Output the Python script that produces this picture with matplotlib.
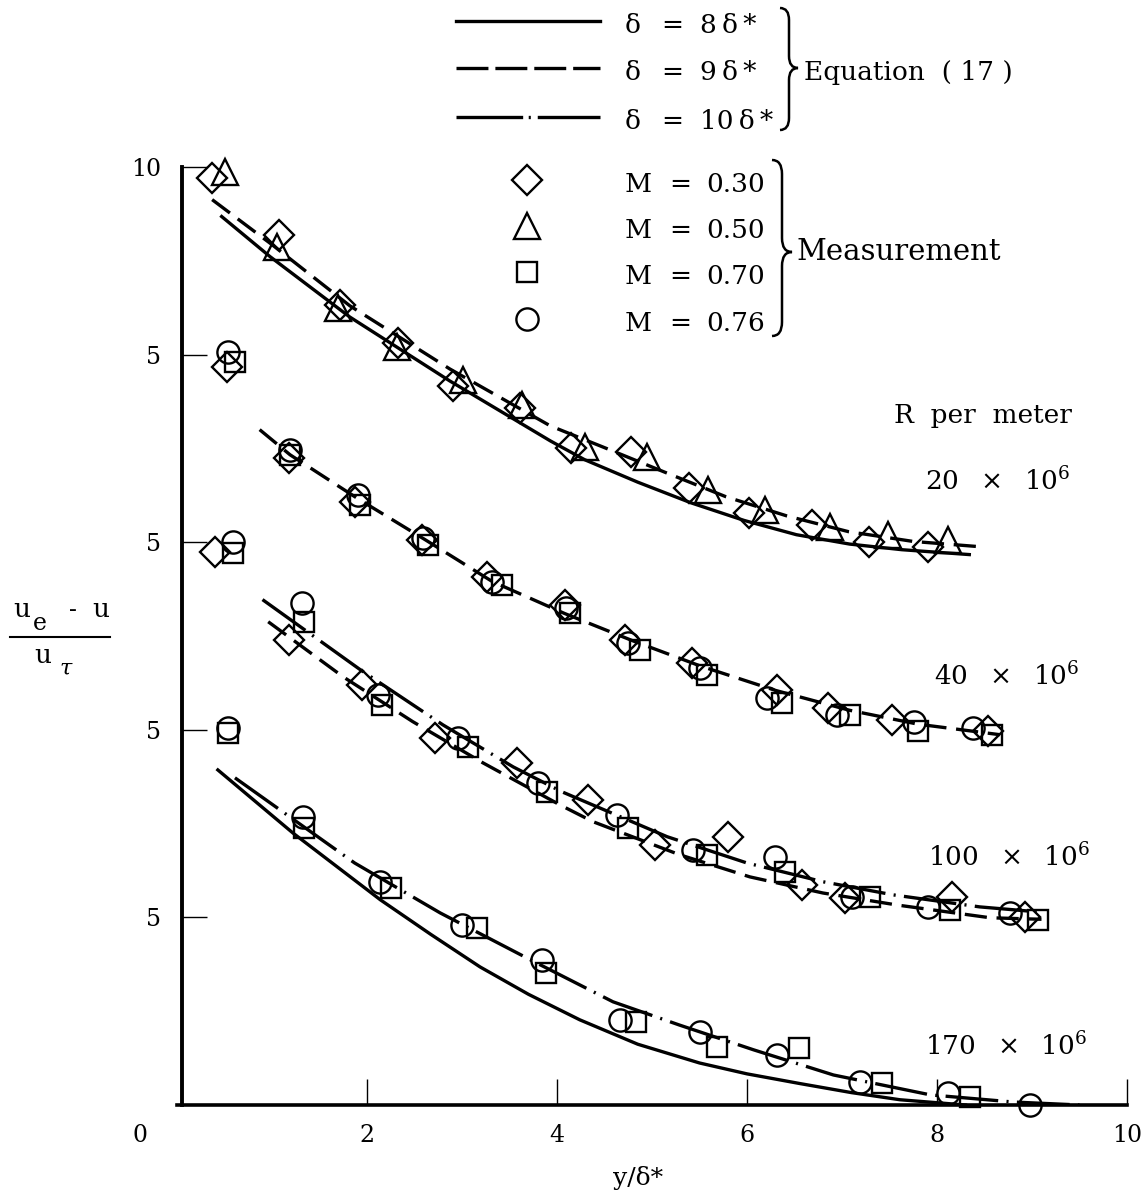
import matplotlib
matplotlib.use("Agg")
import matplotlib.pyplot as plt
from matplotlib.lines import Line2D
from matplotlib.path import Path
from matplotlib.patches import PathPatch

plt.rcParams['font.family'] = ['DejaVu Serif', 'DejaVu Sans']
plt.rcParams['mathtext.fontset'] = 'dejavuserif'
plt.rcParams['lines.scale_dashes'] = False

# ---------------- data (y values include the cascade offset of each group) ----
# Group 20e6 (offset 15): measurements M=0.30 (diamond) and M=0.50 (triangle)
g1_d_x = [0.37, 1.07, 1.72, 2.33, 2.91, 3.61, 4.15, 4.78, 5.39, 6.02, 6.68, 7.28, 7.91]
g1_d_y = [24.72, 23.2, 21.33, 20.32, 19.15, 18.59, 17.52, 17.41, 16.45, 15.79, 15.47, 15.01, 14.88]
g1_t_x = [0.51, 1.05, 1.69, 2.32, 3.01, 3.63, 4.29, 4.95, 5.59, 6.19, 6.87, 7.48, 8.12]
g1_t_y = [24.88, 22.88, 21.25, 20.21, 19.33, 18.67, 17.55, 17.28, 16.4, 15.87, 15.41, 15.2, 15.07]
g1_sol_x = [0.47, 0.98, 1.82, 2.87, 3.93, 4.29, 4.85, 5.41, 5.97, 6.52, 7.08, 7.63, 8.34]
g1_sol_y = [23.68, 22.61, 21.0, 19.3, 17.7, 17.2, 16.6, 16.05, 15.58, 15.2, 14.95, 14.8, 14.67]
g1_dsh_x = [0.37, 1.0, 1.82, 2.87, 3.93, 4.52, 5.15, 5.78, 6.42, 7.07, 7.75, 8.45]
g1_dsh_y = [24.13, 22.93, 21.3, 19.62, 18.1, 17.5, 16.85, 16.21, 15.7, 15.28, 15.02, 14.88]

# Group 40e6 (offset 10): diamond, circle, square
g2_d_x = [0.53, 1.18, 1.87, 2.58, 3.26, 4.08, 4.72, 5.42, 6.32, 6.85, 7.53, 8.54]
g2_d_y = [19.68, 17.25, 16.08, 15.07, 14.08, 13.33, 12.4, 11.79, 11.07, 10.59, 10.27, 9.97]
g2_c_x = [0.54, 1.19, 1.91, 2.59, 3.32, 4.09, 4.75, 5.51, 6.21, 6.95, 7.76, 8.38]
g2_c_y = [20.08, 17.47, 16.27, 15.12, 13.95, 13.25, 12.32, 11.65, 10.85, 10.4, 10.21, 10.05]
g2_s_x = [0.61, 1.19, 1.93, 2.64, 3.42, 4.14, 4.87, 5.58, 6.37, 7.08, 7.8, 8.58]
g2_s_y = [19.79, 17.33, 16.0, 14.93, 13.87, 13.12, 12.13, 11.47, 10.72, 10.4, 9.97, 9.87]
g2_dsh_x = [0.87, 1.19, 1.91, 2.61, 3.32, 4.08, 4.8, 5.51, 6.3, 7.08, 7.8, 8.66]
g2_dsh_y = [18.0, 17.33, 16.15, 15.07, 13.95, 13.1, 12.37, 11.7, 11.05, 10.52, 10.15, 9.87]

# Group 100e6 (offset 5): diamond, circle, square
g3_d_x = [0.40, 1.18, 1.95, 2.72, 3.58, 4.33, 5.03, 5.8, 6.58, 7.03, 8.16, 8.93]
g3_d_y = [14.75, 12.4, 11.2, 9.79, 9.12, 8.13, 6.93, 7.15, 5.87, 5.52, 5.55, 5.01]
g3_c_x = [0.59, 1.32, 2.12, 2.96, 3.8, 4.63, 5.43, 6.29, 7.1, 7.91, 8.77]
g3_c_y = [15.01, 13.39, 10.93, 9.79, 8.59, 7.73, 6.8, 6.61, 5.55, 5.28, 5.12]
g3_s_x = [0.59, 1.34, 2.16, 3.06, 3.89, 4.75, 5.58, 6.4, 7.29, 8.14, 9.06]
g3_s_y = [14.72, 12.88, 10.67, 9.55, 8.35, 7.39, 6.67, 6.21, 5.55, 5.2, 4.93]
g3_dd_x = [0.9, 1.93, 2.8, 3.54, 4.05, 5.16, 6.0, 6.8, 7.54, 8.45, 9.05]
g3_dd_y = [13.47, 11.6, 10.13, 9.01, 8.35, 7.15, 6.45, 5.95, 5.6, 5.28, 5.15]
g3_dsh_x = [0.96, 1.75, 2.48, 3.22, 4.03, 4.38, 5.29, 6.03, 6.8, 7.58, 8.56, 9.1]
g3_dsh_y = [12.88, 11.41, 10.22, 9.12, 8.0, 7.55, 6.67, 6.08, 5.65, 5.33, 4.99, 4.95]

# Group 170e6 (offset 0): circle, square
g4_c_x = [0.54, 1.33, 2.14, 3.0, 3.84, 4.66, 5.5, 6.32, 7.19, 8.12, 8.98]
g4_c_y = [10.05, 7.68, 5.95, 4.8, 3.87, 2.27, 1.95, 1.33, 0.61, 0.32, 0.0]
g4_s_x = [0.54, 1.34, 2.25, 3.16, 3.88, 4.83, 5.68, 6.55, 7.42, 8.35]
g4_s_y = [9.92, 7.39, 5.79, 4.72, 3.52, 2.21, 1.55, 1.52, 0.59, 0.21]
g4_sol_x = [0.43, 1.22, 2.14, 2.67, 3.19, 3.7, 4.24, 4.85, 5.5, 6.0, 6.56, 7.1, 7.61, 8.3]
g4_sol_y = [8.93, 7.25, 5.47, 4.55, 3.68, 2.95, 2.27, 1.62, 1.12, 0.83, 0.57, 0.33, 0.14, 0.0]
g4_dd_x = [0.61, 1.87, 2.77, 3.72, 4.59, 5.29, 6.07, 6.91, 7.93, 8.8, 9.5]
g4_dd_y = [8.72, 6.45, 5.12, 3.87, 2.75, 2.13, 1.47, 0.8, 0.27, 0.08, 0.0]

x_ticks = [2, 4, 6, 8, 10]
x_ticklabels = ['2', '4', '6', '8', '10']
y_ticks = [5, 10, 15, 20, 25]
y_ticklabels = ['5', '5', '5', '5', '10']
r_labels = ['20', '40', '100', '170']
legend_lines = ['8', '9', '10']
legend_mach = ['0.30', '0.50', '0.70', '0.76']

# ---------------- figure ----------------
W, H = 1148, 1201
fig = plt.figure(figsize=(W / 100, H / 100), dpi=100)
fig.patch.set_facecolor('white')


def fx(px):
    return px / W


def fy(py):
    return 1 - py / H


ax = fig.add_axes([fx(177), fy(1105), 950 / W, 938 / H])
ax.set_xlim(0, 10)
ax.set_ylim(0, 25)
ax.set_facecolor('white')
for s in ['top', 'right']:
    ax.spines[s].set_visible(False)
ax.spines['left'].set_linewidth(2.8)
ax.spines['bottom'].set_linewidth(2.6)
ax.spines['left'].set_position(('data', 0.05))
ax.set_xticks(x_ticks)
ax.set_xticklabels(x_ticklabels)
ax.set_yticks(y_ticks)
ax.set_yticklabels(y_ticklabels)
ax.tick_params(axis='x', direction='in', length=19, width=1.0, pad=14, labelsize=17)
ax.tick_params(axis='y', direction='in', length=18, width=1.0, pad=15, labelsize=17)

LW = 2.4
DASH = (0, (16, 7))
DASHDOT = (0, (38, 6, 1.5, 6))
mk = dict(linestyle='none', fillstyle='none', color='black', markeredgewidth=1.7,
          zorder=3, clip_on=False)

# curves
ax.plot(g1_sol_x, g1_sol_y, color='black', lw=LW)
ax.plot(g1_dsh_x, g1_dsh_y, color='black', lw=LW, linestyle=DASH)
ax.plot(g2_dsh_x, g2_dsh_y, color='black', lw=LW, linestyle=DASH)
ax.plot(g3_dd_x, g3_dd_y, color='black', lw=LW, linestyle=DASHDOT)
ax.plot(g3_dsh_x, g3_dsh_y, color='black', lw=LW, linestyle=DASH)
ax.plot(g4_sol_x, g4_sol_y, color='black', lw=LW)
ax.plot(g4_dd_x, g4_dd_y, color='black', lw=LW, linestyle=DASHDOT)

# markers
ax.plot(g1_d_x, g1_d_y, marker='D', ms=15.5, **mk)
ax.plot(g1_t_x, g1_t_y, marker='^', ms=19, **mk)
ax.plot(g2_d_x, g2_d_y, marker='D', ms=15.5, **mk)
ax.plot(g2_c_x, g2_c_y, marker='o', ms=16, **mk)
ax.plot(g2_s_x, g2_s_y, marker='s', ms=15, **mk)
ax.plot(g3_d_x, g3_d_y, marker='D', ms=15.5, **mk)
ax.plot(g3_c_x, g3_c_y, marker='o', ms=16, **mk)
ax.plot(g3_s_x, g3_s_y, marker='s', ms=15, **mk)
ax.plot(g4_c_x, g4_c_y, marker='o', ms=16, **mk)
ax.plot(g4_s_x, g4_s_y, marker='s', ms=15, **mk)

# origin label and axis title
fig.text(fx(140), fy(1135), '0', ha='center', va='center', fontsize=17)
fig.text(fx(638), fy(1185), 'y/δ*', ha='center', va='baseline', fontsize=18)

# y-axis fraction label
fig.text(fx(22), fy(617), 'u', ha='center', va='baseline', fontsize=19)
fig.text(fx(40), fy(630), 'e', ha='center', va='baseline', fontsize=17)
fig.text(fx(73), fy(617), '-', ha='center', va='baseline', fontsize=17)
fig.text(fx(101), fy(617), 'u', ha='center', va='baseline', fontsize=19)
fig.add_artist(Line2D([fx(10), fx(110)], [fy(637), fy(637)], color='black', lw=1.5))
fig.text(fx(43), fy(663), 'u', ha='center', va='baseline', fontsize=19)
fig.text(fx(66), fy(675), 'τ', ha='center', va='baseline', fontsize=16, style='italic')

# R labels
fig.text(fx(894), fy(423), 'R  per  meter', ha='left', va='baseline', fontsize=19)
r_pos = [(925, 490), (934, 685), (928, 866), (925, 1055)]
for lab, (px, py) in zip(r_labels, r_pos):
    fig.text(fx(px), fy(py), r'$%s\ \ \times\ \ 10^{6}$' % lab, ha='left', va='baseline', fontsize=19)

# legend: lines
leg_y = [21, 68, 117]
leg_styles = ['-', (0, (23, 5)), (0, (48, 4, 1.5, 5))]
for lab, yy, ls in zip(legend_lines, leg_y, leg_styles):
    fig.add_artist(Line2D([fx(456), fx(600)], [fy(yy), fy(yy)], color='black', lw=LW, linestyle=ls))
    fig.text(fx(625), fy(yy + 12), 'δ', ha='left', va='baseline', fontsize=19)
    fig.text(fx(672), fy(yy + 12), '=', ha='center', va='baseline', fontsize=19)
    fig.text(fx(700), fy(yy + 12), lab + '\u2009δ\u2009*', ha='left', va='baseline', fontsize=19)
fig.text(fx(804), fy(80), 'Equation  ( 17 )', ha='left', va='baseline', fontsize=19)

# legend: markers
mk_y = [180, 226, 272, 319]
mk_sym = ['D', '^', 's', 'o']
mk_ms = [15.5, 19, 15, 16]
for lab, yy, m, ms in zip(legend_mach, mk_y, mk_sym, mk_ms):
    fig.add_artist(Line2D([fx(527)], [fy(yy)], marker=m, ms=ms, fillstyle='none',
                          color='black', markeredgewidth=1.7, linestyle='none'))
    fig.text(fx(625), fy(yy + 12), 'M', ha='left', va='baseline', fontsize=19)
    fig.text(fx(680), fy(yy + 12), '=', ha='center', va='baseline', fontsize=19)
    fig.text(fx(706), fy(yy + 12), lab, ha='left', va='baseline', fontsize=19)
fig.text(fx(796), fy(260), 'Measurement', ha='left', va='baseline', fontsize=21)


def brace(x0, yt, yb, ym, w, r):
    xm = x0 + w / 2
    verts = [(x0, yt), (xm, yt), (xm, yt + r), (xm, ym - r), (xm, ym), (x0 + w, ym),
             (xm, ym), (xm, ym + r), (xm, yb - r), (xm, yb), (x0, yb)]
    codes = [Path.MOVETO, Path.CURVE3, Path.CURVE3, Path.LINETO, Path.CURVE3, Path.CURVE3,
             Path.CURVE3, Path.CURVE3, Path.LINETO, Path.CURVE3, Path.CURVE3]
    verts = [(fx(a), fy(b)) for a, b in verts]
    p = PathPatch(Path(verts, codes), transform=fig.transFigure, fill=False,
                  lw=1.8, edgecolor='black')
    fig.add_artist(p)


brace(780, 8, 130, 68, 18, 12)
brace(772, 160, 336, 252, 20, 14)

fig.savefig('out.png', dpi=100, facecolor='white')
